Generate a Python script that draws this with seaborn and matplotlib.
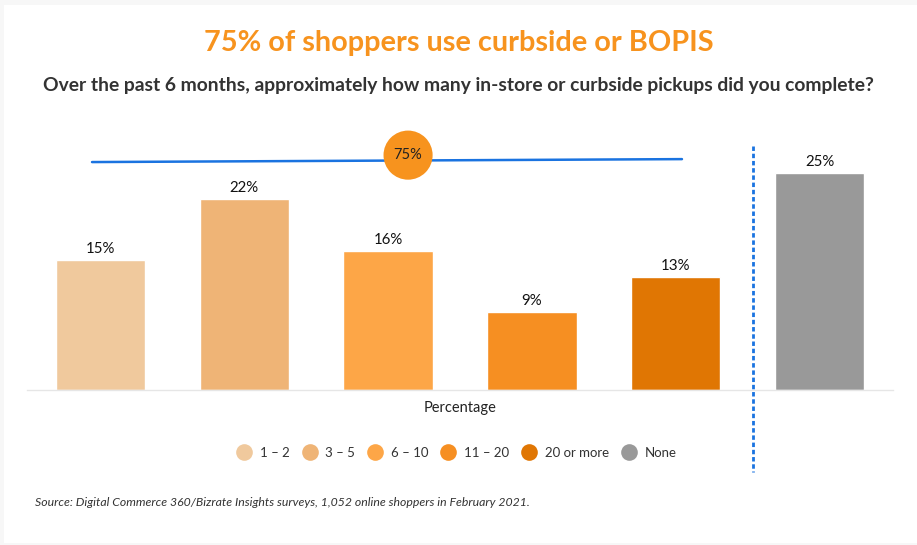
import matplotlib
matplotlib.use("Agg")
import matplotlib.pyplot as plt
import seaborn as sns
import pandas as pd
from matplotlib.lines import Line2D
from matplotlib.patches import Rectangle

categories = ["1 – 2", "3 – 5", "6 – 10", "11 – 20", "20 or more", "None"]
values = [15, 22, 16, 9, 13, 25]
colors = ["#F0C99D", "#EFB476", "#FDA647", "#F68F22", "#E07603", "#999999"]
summary_label = "75%"
title = "75% of shoppers use curbside or BOPIS"
subtitle = "Over the past 6 months, approximately how many in-store or curbside pickups did you complete?"
source = "Source: Digital Commerce 360/Bizrate Insights surveys, 1,052 online shoppers in February 2021."

sns.set_style("white")
plt.rcParams["font.family"] = ["Lato", "DejaVu Sans"]

W, H = 917, 545
fig = plt.figure(figsize=(W / 100, H / 100), dpi=100)
fig.patch.set_facecolor("#F7F7F7")
fig.add_artist(Rectangle((4 / W, 2 / H), 1, 1 - 7 / H, transform=fig.transFigure,
                         facecolor="white", edgecolor="none", zorder=0))

ax = fig.add_axes([27 / W, (H - 390) / H, 866 / W, 260 / H])
ax.set_facecolor("none")
df = pd.DataFrame({"cat": categories, "val": values})
sns.barplot(data=df, x="cat", y="val", hue="cat", palette=colors, width=0.62,
            legend=False, ax=ax, saturation=1)
ax.set_xlim(-0.51, 5.51)
ax.set_ylim(0, 30)
ax.set_yticks([])
ax.set_xticks([])
ax.set_ylabel("")
ax.set_xlabel("Percentage", fontsize=10.5, color="#222222", labelpad=8)
for s in ["top", "right", "left"]:
    ax.spines[s].set_visible(False)
ax.spines["bottom"].set_color("#E6E6E6")
ax.spines["bottom"].set_linewidth(1)

for i, v in enumerate(values):
    ax.text(i, v + 0.45, f"{v}%", ha="center", va="bottom", fontsize=10.8, color="#111111")

# summary line and circle
ax.plot([-0.058, 4.043], [26.3, 26.64], color="#1A73E0", lw=1.8, clip_on=False, zorder=3)
ax.scatter([2.139], [27.1], s=1250, color="#F7931E", zorder=4, clip_on=False, edgecolors="none")
ax.text(2.139, 27.1, summary_label, ha="center", va="center", fontsize=10.5, color="#222222", zorder=5)

# divider
ax.plot([4.537, 4.537], [28.1, -9.46], color="#1A73E0", lw=2, linestyle=(0, (1.6, 1.0)),
        clip_on=False, zorder=3)

fig.text(0.5, 1 - 43 / H, title, ha="center", va="center", fontsize=20.8,
         fontweight="bold", color="#F7931E")
fig.text(0.5, 1 - 86 / H, subtitle, ha="center", va="center", fontsize=13.9,
         fontweight="bold", color="#333333")
fig.text(35 / W, 1 - 503 / H, source, ha="left", va="center", fontsize=8.8,
         style="italic", color="#333333")

handles = [Line2D([0], [0], marker="o", linestyle="none", markersize=12,
                  markerfacecolor=c, markeredgecolor="none") for c in colors]
fig.legend(handles, categories, loc="center", bbox_to_anchor=(457 / W, 1 - 453 / H),
           ncol=6, frameon=False, fontsize=9.5, handletextpad=0.7, columnspacing=1.0,
           labelcolor="#333333", handlelength=1.0)

fig.savefig("out.png", dpi=100, facecolor=fig.get_facecolor())
